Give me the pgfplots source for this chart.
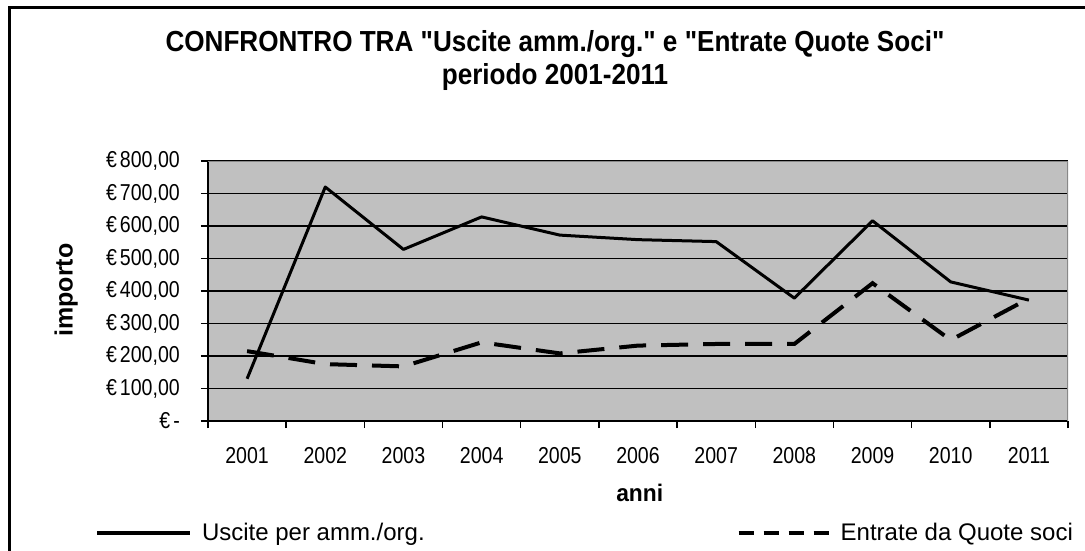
\documentclass[border=0pt]{standalone}
\usepackage{fontspec}
\setmainfont{Liberation Sans}
\newfontfamily\tickfont[FakeStretch=0.85]{Liberation Sans}
\newfontfamily\boldstretch[FakeStretch=0.95]{Liberation Sans Bold}
\newfontfamily\titlefont[FakeStretch=0.9]{Liberation Sans Bold}
\newcommand\q{\symbol{34}}
\usepackage{pgfplots}
\pgfplotsset{compat=1.18}
\definecolor{plotbg}{HTML}{C0C0C0}
\definecolor{bordergray}{HTML}{888888}
\begin{document}
\begin{tikzpicture}[x=1pt,y=1pt]
\path[use as bounding box] (0,0) rectangle (1085,550);
\fill[white] (0,0) rectangle (1085,550);
\draw[line width=3pt] (9,-20) -- (9,542.5) -- (1110,542.5);
\begin{axis}[
  at={(208pt,129pt)}, anchor=south west,
  width=860pt, height=260pt, scale only axis,
  xmin=0.5, xmax=11.5, ymin=0, ymax=800,
  axis x line*=bottom, axis y line*=left,
  axis line style={line width=1.6pt, black, -},
  axis background/.style={fill=plotbg},
  xtick={1,...,11},
  xticklabels={2001,2002,2003,2004,2005,2006,2007,2008,2009,2010,2011},
  minor xtick={0.5,1.5,...,11.5},
  ytick={0,100,...,800},
  yticklabels={{€\hspace{3pt}-\hspace{25pt}},{€\hspace{3pt}100,00},{€\hspace{3pt}200,00},{€\hspace{3pt}300,00},{€\hspace{3pt}400,00},{€\hspace{3pt}500,00},{€\hspace{3pt}600,00},{€\hspace{3pt}700,00},{€\hspace{3pt}800,00}},
  tick align=outside,
  x tick style={draw=none},
  minor x tick style={draw=black, line width=1.5pt},
  minor tick length=7pt,
  y tick style={black, line width=1.5pt},
  major tick length=7pt,
  ymajorgrids=true,
  major grid style={black, line width=1.2pt},
  tick label style={font=\tickfont\fontsize{23}{26}\selectfont, black},
  yticklabel style={anchor=east, inner sep=0pt, xshift=-21pt},
  xticklabel style={anchor=center, inner sep=0pt, yshift=-28pt},
  title={CONFRONTRO TRA \q Uscite amm./org.\q{} e \q Entrate Quote Soci\q\\periodo 2001-2011},
  title style={at={(axis description cs:0.4035,1.363)}, anchor=center, align=center,
    font=\titlefont\fontsize{29}{33}\selectfont, inner sep=0pt},
  xlabel={anni},
  xlabel style={at={(axis description cs:0.502,-0.277)}, anchor=center,
    font=\boldstretch\fontsize{24}{28}\selectfont, inner sep=0pt},
  ylabel={importo},
  ylabel style={at={(axis description cs:-0.165,0.504)}, anchor=center, rotate=0,
    font=\fontsize{25}{28}\selectfont\bfseries, inner sep=0pt},
  legend columns=2,
  legend style={at={(axis description cs:-0.1314,-0.4308)}, anchor=west,
    draw=none, fill=none, inner sep=0pt, outer sep=0pt,
    font=\fontsize{24}{28}\selectfont,
    nodes={inner sep=0pt},
    /tikz/every odd column/.append style={column sep=10pt},
    /tikz/every even column/.append style={column sep=312pt}},
  legend cell align=left,
]
\addplot[black, line width=3pt, line join=round,
  legend image code/.code={\draw[black, line width=4pt] (0pt,0pt) -- (93pt,0pt);}]
  coordinates {(1,130) (2,720) (3,528) (4,628) (5,572) (6,558) (7,552) (8,378) (9,616) (10,428) (11,372)};
\addlegendentry{Uscite per amm./org.}
\addplot[black, line width=4pt, dash pattern=on 27pt off 15pt,
  legend image code/.code={\draw[black, line width=4pt, dash pattern=on 15pt off 10pt] (0pt,0pt) -- (90pt,0pt);}]
  coordinates {(1,215) (2,175) (3,168) (4,242) (5,208) (6,232) (7,237) (8,237) (9,424) (10,249) (11,377)};
\addlegendentry{Entrate da Quote soci}
\draw[bordergray, line width=1.8pt] (rel axis cs:0,1) -- (rel axis cs:1,1) -- (rel axis cs:1,0);
\end{axis}
\end{tikzpicture}
\end{document}
